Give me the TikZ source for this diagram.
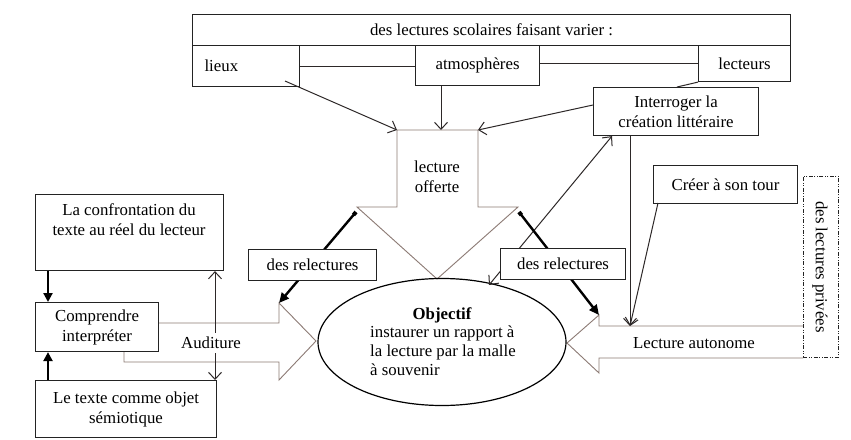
\documentclass[tikz,border=0pt]{standalone}
\usepackage{fontspec}
\setmainfont{Liberation Serif}
\usetikzlibrary{arrows.meta,shapes.geometric}
\definecolor{boxline}{RGB}{35,35,35}
\definecolor{bigline}{RGB}{140,122,116}
\definecolor{connc}{RGB}{45,40,40}
\begin{document}
\begin{tikzpicture}[x=1pt,y=-1pt,
  font=\fontsize{16.8}{20}\selectfont,
  box/.style={draw=boxline, line width=1.1pt, fill=white, inner sep=0pt, align=center, anchor=north west},
  bigarrow/.style={draw=bigline, line width=0.9pt, fill=white, line join=miter},
  conn/.style={draw=connc, line width=1pt, -{Straight Barb[length=7pt,width=13pt]}},
  dblconn/.style={draw=connc, line width=1pt, {Straight Barb[length=7pt,width=13pt]}-{Straight Barb[length=7pt,width=13pt]}},
  plainline/.style={draw=connc, line width=1pt},
  heavy/.style={draw=black, line width=2.4pt, {Square[length=4pt,width=4pt]}-{Triangle[length=10pt,width=9pt]}},
  heavyup/.style={draw=black, line width=2.2pt, -{Triangle[length=9pt,width=9pt]}},
  txt/.style={inner sep=0pt, align=center}]
\useasboundingbox (0,0) rectangle (851,439);
\fill[white] (0,0) rectangle (851,439);

% ---- big hollow arrows ----
\draw[bigarrow] (397,130) coordinate (loTL) -- (478,130) coordinate (loTR) -- (478,207) -- (518,207) coordinate (loSR)
  -- (437,279) -- (357,207) coordinate (loSL) -- (397,207) -- cycle;
\node[txt] (offerte) at (437,177) {lecture\\offerte};

\draw[bigarrow] (158,323) -- (279,323) coordinate (laTop) -- (279,303) coordinate (laHead) -- (316,341) -- (279,380) -- (279,362) -- (124,362) -- (124,351);

\draw[bigarrow] (803,326) -- (599,326) -- (599,315) coordinate (raHead) -- (567,343) -- (599,373) -- (599,358) -- (803,358);
\coordinate (raTop) at (630,326);
\node[txt] (auto) at (694,343) {Lecture autonome};

% ---- ellipse ----
\node[draw=black, line width=1.2pt, ellipse, minimum width=248, minimum height=127, inner sep=0pt] (obj) at (442,342) {};
\node[txt, font=\fontsize{16.8}{20}\selectfont\bfseries] (objt) at (442,315) {Objectif};
\node[inner sep=0pt, align=left, anchor=north west, font=\fontsize{16.8}{19}\selectfont] (objtxt) at (370,326) {instaurer un rapport à\\la lecture par la malle\\à souvenir};

% ---- top block ----
\node[box, minimum width=598, minimum height=31] (head) at (192,14) {des lectures scolaires faisant varier :};
\node[box, minimum width=97, minimum height=41, text width=83, inner xsep=12, align=left] (lieux) at (192,45) {lieux};
\node[box, minimum width=124, minimum height=40] (atmo) at (415,45) {atmosphères};
\node[box, minimum width=92, minimum height=36, text width=80, inner xsep=6] (lect) at (698,45) {lecteurs};
\node[box, minimum width=165, minimum height=48] (inter) at (593,87) {Interroger la\\création littéraire};

\draw[plainline] (lieux.east |- 0,66) -- (atmo.west |- 0,66);
\draw[plainline] (atmo.east |- 0,63) -- (lect.west |- 0,63);
\draw[plainline] (lect.south west) -- (677,87);

\draw[conn] (285,81) -- (loTL);
\draw[conn] (atmo.south -| 441,0) -- (441,130);
\draw[conn] (inter.west |- 0,105) -- (loTR);

% ---- right side ----
\coordinate (ix) at (612,0);
\coordinate (vx) at (630,0);
\draw[dblconn] (ix |- inter.south) -- (489,285);
\draw[conn] (vx |- inter.south) -- (raTop);
\node[box, minimum width=144, minimum height=38] (creer) at (653,165) {Créer à son tour};
\draw[conn] (658,203) -- (raTop);
\node[draw=boxline, line width=0.9pt, dash pattern=on 4pt off 1.5pt on 1pt off 1.5pt on 1pt off 1.5pt, minimum width=35, minimum height=181, inner sep=0pt, anchor=north west] (priv) at (803,176) {};
\node[txt, rotate=-90] (privt) at (820,267) {des lectures privées};

% ---- heavy arrows from shoulders ----
\draw[heavy] (356,212) -- (laHead);
\draw[heavy] (519,212) -- (raHead);
\node[box, minimum width=128, minimum height=31] (rel1) at (248,249) {des relectures};
\node[box, minimum width=125, minimum height=31] (rel2) at (500,248) {des relectures};

% ---- left column ----
\node[box, minimum width=188, minimum height=76] (conf) at (35,194) {};
\node[txt, anchor=north] (conft) at (129,203) {La confrontation du\\texte au réel du lecteur};
\node[box, minimum width=123, minimum height=49] (comp) at (35,302) {Comprendre\\interpréter};
\node[box, minimum width=181, minimum height=57] (texte) at (35,380) {Le texte comme objet\\sémiotique};

\coordinate (lx) at (48,0);
\draw[heavyup] (lx |- conf.south) -- (lx |- comp.north);
\draw[heavyup] (lx |- texte.north) -- (lx |- comp.south);

\coordinate (ax) at (215,0);
\draw[dblconn] (ax |- texte.north) -- (ax |- conf.south);
\node[txt, fill=white, inner ysep=4pt, inner xsep=1pt] (aud) at (211,343) {Auditure};
\end{tikzpicture}
\end{document}
